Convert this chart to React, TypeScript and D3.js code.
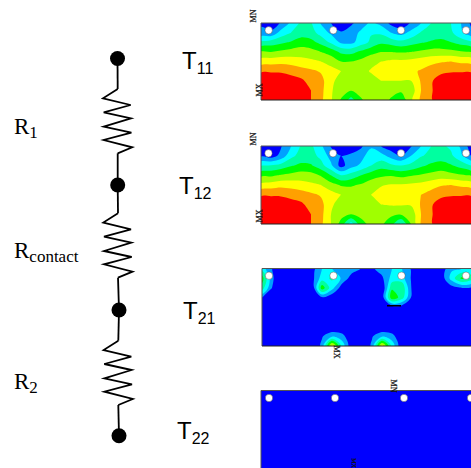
import React from "react";
import * as d3 from "d3";

// band colours of the contour plots, lowest first
const bandColors = ["#0000ff", "#00a0ff", "#00ffff", "#00ffa0", "#00ff00", "#a0ff00", "#ffff00", "#ffa000", "#ff0000"];

// contour level read at each grid point (9 rows, 22 columns), 0 = blue .. 8 = red
const t11Levels = [
  [0.8, 0.4, 1.1, 2.2, 3.2, 3.1, 1.9, 1.0, 0.3, 0.8, 1.5, 2.2, 1.7, 0.7, 0.3, 1.1, 2.0, 3.0, 3.3, 3.0, 2.0, 0.8],
  [1.3, 1.2, 2.4, 3.0, 3.5, 3.4, 2.6, 1.8, 1.1, 1.5, 2.2, 2.9, 2.8, 2.0, 1.6, 2.3, 3.1, 3.5, 3.6, 3.2, 2.2, 1.3],
  [3.2, 3.5, 3.8, 4.1, 4.5, 4.3, 3.7, 2.8, 1.8, 1.7, 2.5, 3.2, 3.8, 3.6, 3.3, 3.6, 3.9, 4.1, 4.2, 4.0, 3.6, 3.2],
  [5.1, 5.0, 5.2, 5.4, 5.5, 5.4, 5.0, 4.6, 3.8, 3.7, 4.2, 4.7, 5.0, 5.0, 4.9, 5.0, 5.2, 5.4, 5.4, 5.3, 5.1, 5.0],
  [6.5, 6.6, 6.7, 6.6, 6.4, 6.2, 6.0, 5.6, 5.0, 5.0, 5.3, 5.7, 6.0, 6.2, 6.2, 6.3, 6.5, 6.7, 6.9, 7.0, 6.8, 6.7],
  [7.9, 7.9, 7.9, 7.7, 7.4, 7.2, 6.9, 6.4, 6.0, 5.5, 5.6, 6.1, 6.6, 6.7, 6.7, 6.8, 7.1, 7.5, 7.8, 7.9, 7.9, 7.9],
  [8.6, 8.6, 8.5, 8.4, 8.2, 7.6, 7.3, 6.3, 5.5, 5.3, 5.4, 5.6, 6.0, 6.0, 6.0, 6.0, 7.1, 7.9, 8.4, 8.6, 8.7, 8.7],
  [8.8, 8.8, 8.7, 8.6, 8.4, 8.0, 7.3, 6.1, 5.5, 5.05, 5.3, 5.4, 5.4, 5.3, 5.2, 5.4, 7.0, 7.9, 8.5, 8.7, 8.8, 8.8],
  [8.9, 8.9, 8.8, 8.7, 8.3, 8.0, 7.2, 6.1, 4.9, 3.6, 4.9, 5.4, 5.4, 4.9, 4.2, 5.8, 7.2, 7.9, 8.6, 8.8, 8.9, 8.9],
];

const t12Levels = [
  [0.3, 0.3, 0.9, 2.0, 3.1, 3.2, 2.2, 0.9, 0.3, 0.3, 0.8, 1.8, 1.0, 0.4, 0.3, 0.9, 2.0, 3.0, 3.2, 2.8, 1.8, 0.5],
  [0.8, 0.5, 1.3, 2.7, 3.4, 3.4, 2.7, 1.6, 1.0, 1.2, 1.6, 2.6, 2.4, 1.6, 1.0, 2.0, 2.9, 3.3, 3.5, 3.2, 2.2, 1.0],
  [2.9, 3.1, 3.4, 3.9, 4.2, 4.1, 3.4, 2.2, 0.6, 1.6, 2.2, 3.0, 3.6, 3.2, 3.0, 3.3, 3.8, 4.2, 4.4, 4.1, 3.6, 3.0],
  [4.8, 4.8, 5.1, 5.3, 5.5, 5.4, 4.9, 4.0, 3.0, 3.4, 4.0, 4.5, 4.8, 4.9, 4.7, 4.9, 5.1, 5.3, 5.5, 5.3, 5.1, 4.9],
  [6.3, 6.5, 6.7, 6.6, 6.4, 6.2, 6.0, 5.4, 4.9, 4.9, 5.1, 5.6, 5.9, 6.1, 6.1, 6.2, 6.3, 6.6, 6.9, 7.0, 6.8, 6.6],
  [7.9, 7.9, 7.9, 7.7, 7.5, 7.2, 6.9, 6.4, 6.0, 5.5, 5.6, 6.0, 6.5, 6.7, 6.7, 6.8, 7.0, 7.4, 7.8, 7.9, 7.9, 7.9],
  [8.6, 8.6, 8.5, 8.4, 8.2, 7.6, 7.3, 6.2, 5.5, 5.3, 5.4, 5.7, 6.0, 6.1, 6.1, 6.1, 7.1, 7.9, 8.4, 8.6, 8.7, 8.7],
  [8.8, 8.8, 8.7, 8.6, 8.4, 8.0, 7.3, 6.0, 5.4, 5.0, 5.3, 5.3, 5.3, 5.2, 5.1, 5.3, 7.0, 7.9, 8.5, 8.7, 8.8, 8.8],
  [8.9, 8.9, 8.8, 8.7, 8.4, 8.0, 7.2, 6.0, 4.6, 2.5, 4.6, 5.3, 5.2, 4.4, 2.8, 5.0, 7.1, 7.9, 8.6, 8.8, 8.9, 8.9],
];

const t21Levels = [
  [2.5, 1.0, 0, 0, 1.0, 0.5, 2.0, 2.0, 1.8, 1.5, 0.9, 0.8, 1.5, 2.0, 2.0, 0.8, 0, 0, 0.5, 1.8, 2.0, 2.0],
  [4.5, 1.2, 0, 0, 0, 0.6, 2.5, 3.2, 1.8, 0.5, 0, 0, 0.8, 2.4, 2.4, 0.8, 0, 0, 0.5, 2.5, 4.3, 3.5],
  [3.5, 1.0, 0, 0, 0, 0, 4.6, 2.4, 0.4, 0, 0, 0, 0, 3.8, 3.8, 0.8, 0, 0, 0, 0.6, 1.0, 0.8],
  [1.0, 0.2, 0, 0, 0, 0, 0.8, 0.2, 0, 0, 0, 0, 0.3, 4.8, 3.5, 0.7, 0, 0, 0, 0, 0, 0],
  [0, 0, 0, 0, 0, 0, 0, 0, 0, 0, 0, 0, 0, 0.3, 0.3, 0, 0, 0, 0, 0, 0, 0],
  [0, 0, 0, 0, 0, 0, 0, 0, 0, 0, 0, 0, 0, 0, 0, 0, 0, 0, 0, 0, 0, 0],
  [0, 0, 0, 0, 0, 0, 0, 0, 0, 0, 0, 0, 0, 0, 0, 0, 0, 0, 0, 0, 0, 0],
  [0, 0, 0, 0, 0, 0, 0.9, 1.8, 1.4, 0, 0, 0.9, 1.8, 1.4, 0, 0, 0, 0, 0, 0, 0, 0],
  [0, 0, 0, 0, 0, 0, 1.25, 6.5, 2.7, 0, 0, 1.2, 6.5, 2.7, 0, 0, 0, 0, 0, 0, 0, 0],
];

const t22Levels = [
  [0, 0, 0, 0, 0, 0, 0, 0, 0, 0, 0, 0, 0, 0, 0, 0, 0, 0, 0, 0, 0, 0],
  [0, 0, 0, 0, 0, 0, 0, 0, 0, 0, 0, 0, 0, 0, 0, 0, 0, 0, 0, 0, 0, 0],
];

const plotLevels = [t11Levels, t12Levels, t21Levels, t22Levels];
const plotLeft = [261, 261, 262, 261];
const plotTop = [23, 146, 268.5, 390.5];
const plotBottom = [100, 224, 346, 470];
const holeX = [
  [268.7, 333.3, 401, 466],
  [268.5, 333, 401, 466],
  [269, 333.5, 401.5, 466],
  [269, 335, 404, 471],
];
const holeY = [30.3, 153.3, 275.7, 398];

// tiny MN / MX tags of the plots
const tagText = ["MN", "MX", "MN", "MX", "MX", "MN", "MX"];
const tagX = [254, 260, 254, 260, 336, 393, 353];
const tagY = [16, 90, 139, 216, 352, 386, 463];
const tagSize = [8, 8, 8, 8, 8, 8, 6];
const tagAngle = [-90, -90, -90, -90, 90, 90, 90];

// circuit
const nodeX = [117.5, 117.7, 119, 119];
const nodeY = [58.5, 185, 310, 435.7];
const resistorX = [117.7, 118, 118.3];
const resistorY = [89, 213.3, 340.7];
const zigDx = [0, -14.7, 13, -14, 13.3, -14, 13.7, -14, 14.5, 0];
const zigDy = [0, 9.3, 16, 23.3, 29.3, 37.7, 43.7, 51, 58.3, 64.3];

const tempLabels = ["11", "12", "21", "22"];
const tempX = [182, 179, 183, 177];
const tempY = [69, 194, 319, 439];
const resistanceLabels = ["1", "contact", "2"];
const resistanceX = [14, 14, 14];
const resistanceY = [134, 258, 389];

function ContourPlot({ index }: { index: number }) {
  const levels = plotLevels[index];
  const left = plotLeft[index], top = plotTop[index], bottom = plotBottom[index];
  const nRows = levels.length, nCols = levels[0].length;
  const sx = d3.scaleLinear().domain([0.5, nCols - 0.5]).range([left, left + 210]);
  const sy = d3.scaleLinear().domain([0.5, nRows - 0.5]).range([top, bottom]);
  // rounded outlines, the plot's own bands are smooth
  const ringLine = d3.line()
    .x((d) => sx(d[0]))
    .y((d) => sy(d[1]))
    .curve(d3.curveCatmullRomClosed.alpha(0.5));
  const bands = d3.contours()
    .size([nCols, nRows])
    .thresholds(d3.range(1, bandColors.length))(levels.flat());
  const clip = "plot-clip-" + index;
  return (
    <g>
      <clipPath id={clip}>
        <rect x={left} y={top} width={212} height={bottom - top} />
      </clipPath>
      <rect x={left} y={top} width={212} height={bottom - top} fill={bandColors[0]} />
      <g clipPath={`url(#${clip})`}>
        {bands.map((b) => (
          <path
            key={b.value}
            d={b.coordinates.flat().map((ring) => ringLine(ring.slice(0, -1) as [number, number][])).join("")}
            fill={bandColors[b.value]}
            fillRule="evenodd"
          />
        ))}
      </g>
      <path d={`M${left},${bottom}V${top}H472`} fill="none" stroke="#555" strokeWidth={1} />
      <path d={`M${left},${bottom}H472`} fill="none" stroke="#222" strokeWidth={1} />
      {holeX[index].map((x) => (
        <circle key={x} cx={x} cy={holeY[index]} r={3.7} fill="#fff" stroke="#333" strokeWidth={0.4} />
      ))}
    </g>
  );
}

export default function App() {
  const line = d3.line();
  return (
    <svg width={471} height={468} style={{ position: "absolute", left: 0, top: 0 }}>
      <rect width={471} height={468} fill="#fff" />
      {plotLevels.map((_, i) => <ContourPlot key={i} index={i} />)}
      <rect x={387} y={305} width={14} height={1.5} fill="#000" />
      {tagText.map((t, i) => (
        <text key={i} transform={`translate(${tagX[i]},${tagY[i]}) rotate(${tagAngle[i]})`}
          fontFamily="Liberation Serif" fontSize={tagSize[i]} textAnchor="middle" dominantBaseline="middle"
          fill="#111" stroke="#111" strokeWidth={0.25}>{t}</text>
      ))}
      {resistorX.map((rx, r) => (
        <g key={r}>
          <path d={line([[nodeX[r], nodeY[r]], [rx, resistorY[r]]]) || ""} stroke="#000" strokeWidth={1.8} fill="none" />
          <path d={line(zigDx.map((dx, i) => [rx + dx, resistorY[r] + zigDy[i]]) as [number, number][]) || ""}
            stroke="#000" strokeWidth={1.8} fill="none" />
          <path d={line([[rx, resistorY[r] + 64.3], [nodeX[r + 1], nodeY[r + 1]]]) || ""} stroke="#000" strokeWidth={1.8} fill="none" />
        </g>
      ))}
      {nodeX.map((x, i) => <circle key={i} cx={x} cy={nodeY[i]} r={7.5} fill="#000" />)}
      {tempLabels.map((t, i) => (
        <text key={t} x={tempX[i]} y={tempY[i]} fontFamily="Liberation Sans" fontSize={24} fill="#000">
          T<tspan fontSize={16} dy={5}>{t}</tspan>
        </text>
      ))}
      {resistanceLabels.map((t, i) => (
        <text key={t} x={resistanceX[i]} y={resistanceY[i]} fontFamily="Liberation Serif" fontSize={23} fill="#000">
          R<tspan fontSize={17} dy={4}>{t}</tspan>
        </text>
      ))}
    </svg>
  );
}
